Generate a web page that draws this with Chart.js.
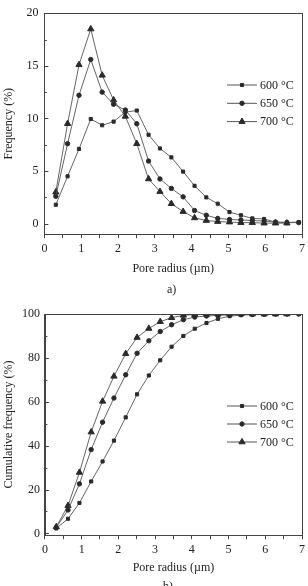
<!DOCTYPE html>
<html><head><meta charset="utf-8">
<script src="https://cdn.jsdelivr.net/npm/chart.js@4"></script>
<style>
body{margin:0;background:#fff;width:308px;height:586px;overflow:hidden;position:relative;}
canvas{position:absolute;left:0;}
#c1{top:0}
#c2{top:293px}
.lab{position:absolute;font:12px "Liberation Serif",serif;color:#222}
</style></head><body>
<canvas id="c1" width="308" height="276"></canvas>
<canvas id="c2" width="308" height="282"></canvas>
<div class="lab" style="left:167px;top:282px">a)</div>
<div class="lab" style="left:163px;top:579px">b)</div>
<script>
// Pore radius (µm) sample points
const radius = [0.31,0.63,0.94,1.26,1.57,1.88,2.20,2.51,2.83,3.14,3.45,3.77,4.08,4.40,4.71,5.03,5.34,5.65,5.97,6.28,6.59,6.91];
const seriesNames = ['600 °C','650 °C','700 °C'];
// Frequency (%)
const freq600 = [1.8,4.5,7.1,9.95,9.35,9.7,10.6,10.75,8.45,7.15,6.3,4.95,3.6,2.5,1.9,1.1,0.8,0.5,0.45,0.15,0.12,0.15];
const freq650 = [2.6,7.6,12.2,15.6,12.5,11.35,10.8,9.5,5.95,4.25,3.35,2.55,1.25,0.8,0.5,0.4,0.35,0.3,0.25,0.15,0.1,0.1];
const freq700 = [3.0,9.5,15.1,18.5,14.1,11.75,10.2,7.6,4.25,3.05,1.9,1.15,0.55,0.3,0.2,0.15,0.1,0.1,0.05,0.05,0.05];
// Cumulative frequency (%)
const cum600 = [2.3,6.7,13.9,23.7,32.8,42.3,52.9,63.4,72.0,78.9,85.1,90.0,93.3,95.9,97.8,99.0,99.5,99.7,99.8,99.9,100,100];
const cum650 = [2.7,10.7,22.6,38.2,50.7,61.7,72.3,82.1,87.8,92.0,95.1,97.4,98.6,99.1,99.4,99.6,99.7,99.8,99.9,100,100,100];
const cum700 = [3.0,12.7,27.8,46.2,60.2,71.6,81.9,89.3,93.4,96.5,98.3,99.4,99.7,99.8,99.9,100,100,100,100,100,100];
// Axis ticks
const xTicks = [0,0.5,1,1.5,2,2.5,3,3.5,4,4.5,5,5.5,6,6.5,7];
const yTicksTop = [0,2.5,5,7.5,10,12.5,15,17.5,20];
const yTicksBottom = [0,10,20,30,40,50,60,70,80,90,100];

const INK = '#2a2a2a';
const FONT = {family:'"Liberation Serif", serif', size:12};
const styles = ['rect','circle','triangle'];
const radii = [2.2,2.2,3.6];

function pts(vals){ return vals.map((v,i)=>({x:radius[i], y:v})); }

const framePlugin = {
  id:'frame',
  afterDraw(chart, args, opts){
    const {ctx, chartArea:a} = chart;
    const ys = chart.scales.y;
    ctx.save();
    ctx.strokeStyle = '#444'; ctx.lineWidth = 1;
    ctx.strokeRect(Math.round(a.left)+0.5, Math.round(a.top)+0.5, Math.round(a.right-a.left), Math.round(a.bottom-a.top));
    ys.ticks.forEach(t=>{
      const y = Math.round(ys.getPixelForValue(t.value))+0.5;
      const len = (t.value % opts.major === 0) ? 4 : 2.5;
      ctx.beginPath(); ctx.moveTo(a.left, y); ctx.lineTo(a.left+len, y); ctx.stroke();
    });
    // legend
    const lg = opts.legend;
    chart.data.datasets.forEach((ds,i)=>{
      const y = lg.y + i*lg.dy;
      ctx.strokeStyle = '#555'; ctx.lineWidth = 1;
      ctx.beginPath(); ctx.moveTo(lg.x, y); ctx.lineTo(lg.x+30, y); ctx.stroke();
      ctx.fillStyle = INK; ctx.strokeStyle = INK;
      Chart.helpers.drawPoint(ctx, {pointStyle:ds.pointStyle, radius:ds.pointRadius, rotation:0, borderWidth:1}, lg.x+15, y);
      ctx.fillStyle = '#222';
      ctx.font = '12px "Liberation Serif", serif';
      ctx.textBaseline = 'middle'; ctx.textAlign = 'left';
      ctx.fillText(ds.label, lg.x+33, y+0.5);
    });
    ctx.restore();
  }
};

function makeChart(id, data, ymin, ymax, yTicks, major, yTitle, pad, legend, tickPad, titlePad, xTitlePad){
  const datasets = data.map((vals,i)=>({
    label: seriesNames[i], data: pts(vals),
    borderColor:'#555', borderWidth:0.9, backgroundColor:INK, pointBorderColor:INK,
    pointStyle: styles[i], pointRadius: radii[i], pointBorderWidth:1, tension:0, fill:false
  }));
  return new Chart(document.getElementById(id), {
    type:'line',
    data:{datasets},
    options:{
      responsive:false, animation:false,
      layout:{padding:pad},
      plugins:{legend:{display:false}, tooltip:{enabled:false}, frame:{major, legend}},
      scales:{
        x:{type:'linear', min:0, max:7,
           afterBuildTicks(s){ s.ticks = xTicks.map(v=>({value:v})); },
           ticks:{callback:v=>Number.isInteger(v)?String(v):'', color:'#222', font:FONT, padding:3, maxRotation:0, autoSkip:false},
           grid:{drawOnChartArea:false, tickLength:4, color:'#444'},
           border:{color:'#444'},
           title:{display:true, text:'Pore radius (µm)', color:'#222', font:FONT, padding:{top:xTitlePad,bottom:0}}},
        y:{min:ymin, max:ymax,
           afterBuildTicks(s){ s.ticks = yTicks.map(v=>({value:v})); },
           ticks:{callback:v=>(v%major===0)?String(v):'', color:'#222', font:FONT, padding:tickPad, autoSkip:false},
           grid:{drawOnChartArea:false, drawTicks:false, color:'#444'},
           border:{color:'#444'},
           title:{display:true, text:yTitle, color:'#222', font:FONT, padding:{top:0,bottom:titlePad}}}
      }
    },
    plugins:[framePlugin]
  });
}

makeChart('c1',[freq600,freq650,freq700],-1,20,yTicksTop,5,'Frequency (%)',{top:10,right:5,left:2,bottom:0},{x:227,y:85,dy:18.3},6,4,3);
makeChart('c2',[cum600,cum650,cum700],-0.8,100,yTicksBottom,20,'Cumulative frequency (%)',{top:21,right:5,left:1.5,bottom:0},{x:227,y:113,dy:18},5,1,1);
</script>
</body></html>
